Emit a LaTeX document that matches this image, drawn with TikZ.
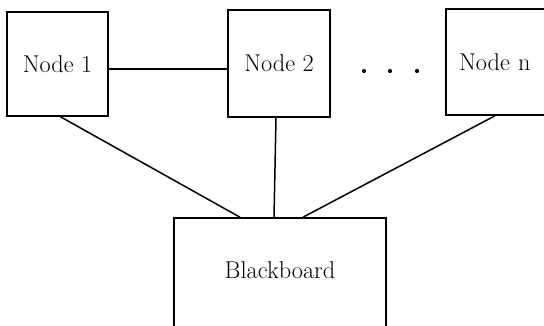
\documentclass[tikz,border=0pt]{standalone}
\usepackage{fontspec}
\begin{document}
\begin{tikzpicture}[x=1pt,y=-1pt,
  every node/.style={font=\fontsize{24.3}{28}\selectfont},
  box/.style={draw, line width=1.6pt, inner sep=0pt},
  conn/.style={line width=1.5pt},
  dotn/.style={circle, fill, inner sep=0pt, minimum size=4.2pt}]
\useasboundingbox (0,0) rectangle (544,326);
\clip (0,0) rectangle (544,326);
\node[box, minimum width=101pt, minimum height=104pt] (n1) at (57.5,64) {Node 1};
\node[box, minimum width=102pt, minimum height=107pt] (n2) at (279,63.5) {Node 2};
\node[box, minimum width=106pt, minimum height=106pt, text width=80pt, align=left] (nn) at (499,62) {Node n};
\node[box, minimum width=212pt, minimum height=116pt] (bb) at (280,276) {};
\node (bbt) at (280,270) {Blackboard};
\node[dotn] (d1) at (364,71) {};
\node[dotn] (d2) at (390,71) {};
\node[dotn] (d3) at (417,71) {};
\draw[conn] ([yshift=-5pt]n1.east) -- ([yshift=-5pt]n1.east -| n2.west);
\draw[conn] ([xshift=3pt]n1.south) -- ([xshift=-40pt]bb.north);
\draw[conn] ([xshift=-3pt]n2.south) -- ([xshift=-6pt]bb.north);
\draw[conn] ([xshift=-4pt]nn.south) -- ([xshift=23pt]bb.north);
\end{tikzpicture}
\end{document}
